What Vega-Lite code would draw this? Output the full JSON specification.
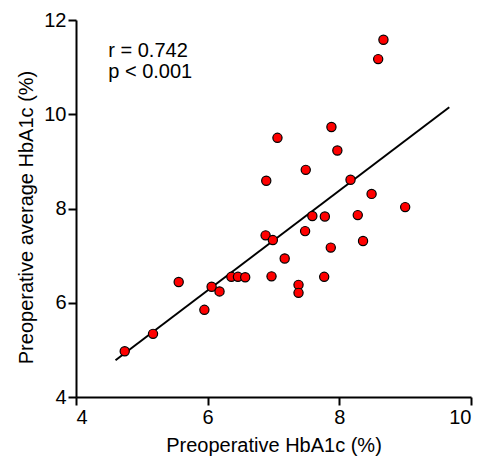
{
  "$schema": "https://vega.github.io/schema/vega-lite/v6.json",
  "width": 395,
  "height": 377,
  "autosize": "none",
  "padding": {"left": 76, "top": 20, "right": 12, "bottom": 62},
  "background": "white",
  "config": {
    "view": {"stroke": null},
    "font": "Liberation Sans",
    "axis": {
      "grid": false,
      "domainColor": "black",
      "domainWidth": 2,
      "tickColor": "black",
      "tickWidth": 2,
      "tickSize": 8,
      "labelColor": "black",
      "labelFont": "Liberation Sans",
      "labelFontSize": 20,
      "labelPadding": 2,
      "titleColor": "black",
      "titleFont": "Liberation Sans",
      "titleFontSize": 20,
      "titleFontWeight": "normal"
    }
  },
  "datasets": {
    "pts": [
      {"x": 8.67, "y": 11.58}, {"x": 8.59, "y": 11.17}, {"x": 7.88, "y": 9.73},
      {"x": 7.06, "y": 9.50}, {"x": 7.97, "y": 9.23}, {"x": 7.49, "y": 8.82},
      {"x": 6.89, "y": 8.59}, {"x": 8.17, "y": 8.61}, {"x": 8.49, "y": 8.31},
      {"x": 9.00, "y": 8.03}, {"x": 7.59, "y": 7.84}, {"x": 7.78, "y": 7.83},
      {"x": 8.28, "y": 7.86}, {"x": 7.48, "y": 7.52}, {"x": 6.88, "y": 7.43},
      {"x": 6.99, "y": 7.33}, {"x": 8.36, "y": 7.31}, {"x": 7.87, "y": 7.17},
      {"x": 7.17, "y": 6.94}, {"x": 6.36, "y": 6.55}, {"x": 6.46, "y": 6.55},
      {"x": 6.57, "y": 6.54}, {"x": 6.97, "y": 6.56}, {"x": 7.77, "y": 6.55},
      {"x": 5.56, "y": 6.44}, {"x": 6.06, "y": 6.34}, {"x": 6.18, "y": 6.24},
      {"x": 7.38, "y": 6.38}, {"x": 7.38, "y": 6.21}, {"x": 5.95, "y": 5.85},
      {"x": 5.17, "y": 5.34}, {"x": 4.74, "y": 4.97}
    ],
    "fit": [
      {"x": 4.60, "y": 4.78},
      {"x": 9.67, "y": 10.15}
    ],
    "notes": [
      {"x": 4.49, "y": 11.22, "label": "r = 0.742"},
      {"x": 4.49, "y": 10.76, "label": "p < 0.001"}
    ]
  },
  "layer": [
    {
      "data": {"name": "fit"},
      "mark": {"type": "line", "color": "black", "strokeWidth": 2},
      "encoding": {
        "x": {"field": "x", "type": "quantitative", "scale": {"domain": [4, 10], "nice": false, "zero": false},
              "axis": {"values": [4, 6, 8, 10], "format": "d", "title": "Preoperative HbA1c (%)", "titlePadding": 8}},
        "y": {"field": "y", "type": "quantitative", "scale": {"domain": [4, 12], "nice": false, "zero": false},
              "axis": {"values": [4, 6, 8, 10, 12], "format": "d", "title": "Preoperative average HbA1c (%)", "titlePadding": 7, "titleY": 197}}
      }
    },
    {
      "data": {"name": "pts"},
      "mark": {"type": "point", "filled": true, "fill": "#ff0000", "stroke": "black", "strokeWidth": 1.2, "opacity": 1, "size": 85},
      "encoding": {
        "x": {"field": "x", "type": "quantitative"},
        "y": {"field": "y", "type": "quantitative"}
      }
    },
    {
      "data": {"name": "notes"},
      "mark": {"type": "text", "align": "left", "baseline": "alphabetic", "fontSize": 20, "font": "Liberation Sans", "color": "black"},
      "encoding": {
        "x": {"field": "x", "type": "quantitative"},
        "y": {"field": "y", "type": "quantitative"},
        "text": {"field": "label"}
      }
    }
  ]
}
